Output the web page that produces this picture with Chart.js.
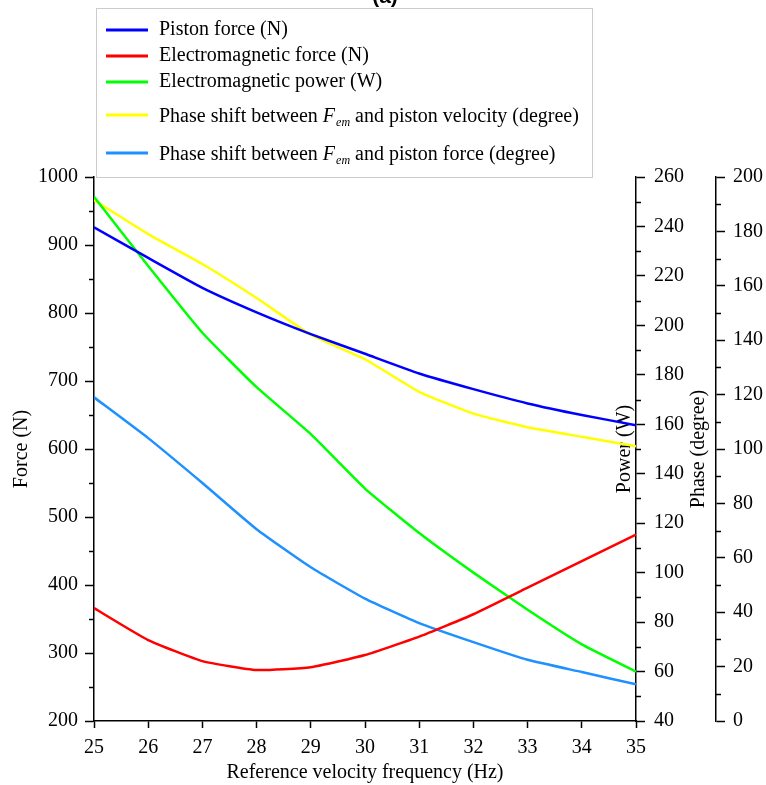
<!DOCTYPE html>
<html>
<head>
<meta charset="utf-8">
<script src="https://cdn.jsdelivr.net/npm/chart.js@4.4.0/dist/chart.umd.min.js"></script>
<style>
  html, body { margin: 0; padding: 0; background: #fff; }
  #wrap { width: 766px; height: 785px; }
</style>
</head>
<body>
<div id="wrap"><canvas id="myChart" width="766" height="785"></canvas></div>
<script>
// values
const freq = [25, 26, 27, 28, 29, 30, 31, 32, 33, 34, 35];
const pistonForce = [926, 881, 837, 801, 769, 740, 711, 688, 667, 650, 635];
const emForce = [366, 319, 288, 275, 279, 297, 324, 357, 396, 435, 474];
const emPower = [252, 224, 197, 175, 156, 134, 116, 100, 85, 71, 60];
const phaseVel = [191.5, 179, 168, 155.5, 142, 133, 121, 113, 108, 104.5, 101];
const phaseForce = [119, 104, 87.5, 70.5, 56.5, 45, 36, 29, 22.5, 18, 13.5];

const seriesNames = [
    'Piston force (N)',
    'Electromagnetic force (N)',
    'Electromagnetic power (W)',
    'Phase shift between Fem and piston velocity (degree)',
    'Phase shift between Fem and piston force (degree)'
];
const seriesColors = ['#0000ff', '#ff0000', '#00ff00', '#ffff00', '#1e90ff'];
const legendRows = [30, 56, 82, 117, 155];

const serif = "'Liberation Serif', 'Times New Roman', serif";
const majorStep = { yForce: 100, yPower: 20, yPhase: 20 };

function toPoints(vals) {
    return freq.map((f, i) => ({ x: f, y: vals[i] }));
}

function drawRich(ctx, text, x, y, size) {
    let parts = text.split('Fem');
    let cx = x;
    parts.forEach((p, i) => {
        if (i > 0) {
            ctx.font = 'italic ' + size + 'px ' + serif;
            ctx.fillText('F', cx, y);
            cx += ctx.measureText('F').width + 1;
            ctx.font = 'italic ' + Math.round(size * 0.62) + 'px ' + serif;
            ctx.fillText('em', cx, y + 6);
            cx += ctx.measureText('em').width;
        }
        ctx.font = size + 'px ' + serif;
        ctx.fillText(p, cx, y);
        cx += ctx.measureText(p).width;
    });
}

function vTitle(ctx, text, x, y) {
    ctx.save();
    ctx.translate(x, y);
    ctx.rotate(-Math.PI / 2);
    ctx.textAlign = 'center';
    ctx.textBaseline = 'middle';
    ctx.fillText(text, 0, 0);
    ctx.restore();
}

const decor = {
    id: 'decor',
    beforeDatasetsDraw(chart) {
        let ctx = chart.ctx;
        let a = chart.chartArea;
        let midY = (a.top + a.bottom) / 2;
        ctx.save();
        ctx.fillStyle = '#000';
        ctx.font = '20px ' + serif;
        vTitle(ctx, 'Force (N)', 22, midY);
        vTitle(ctx, 'Power (W)', a.right - 11, midY);
        vTitle(ctx, 'Phase (degree)', chart.scales.yPhase.left - 17, midY);
        ctx.textAlign = 'center';
        ctx.textBaseline = 'middle';
        ctx.fillText('Reference velocity frequency (Hz)', (a.left + a.right) / 2, 773);

        // minor ticks
        ctx.strokeStyle = '#000';
        ctx.lineWidth = 1.5;
        ['yForce', 'yPower', 'yPhase'].forEach(id => {
            let s = chart.scales[id];
            s.ticks.forEach(t => {
                if (t.value % majorStep[id] === 0) return;
                let y = Math.round(s.getPixelForValue(t.value)) + 0.5;
                let x0 = s.position === 'left' ? s.right : s.left;
                let dir = s.position === 'left' ? -1 : 1;
                ctx.beginPath();
                ctx.moveTo(x0, y);
                ctx.lineTo(x0 + dir * 5, y);
                ctx.stroke();
            });
        });
        ctx.restore();
    },
    afterDraw(chart) {
        let ctx = chart.ctx;
        ctx.save();
        // panel label, cut off at the top edge
        ctx.fillStyle = '#000';
        ctx.font = 'bold 21px "Liberation Sans", Arial, sans-serif';
        ctx.textAlign = 'center';
        ctx.textBaseline = 'alphabetic';
        ctx.fillText('(a)', 385, 3);

        // legend box
        ctx.fillStyle = '#fff';
        ctx.fillRect(96, 8, 496, 169);
        ctx.strokeStyle = '#cccccc';
        ctx.lineWidth = 1;
        ctx.strokeRect(96.5, 8.5, 496, 169);
        ctx.textAlign = 'left';
        ctx.textBaseline = 'middle';
        chart.data.datasets.forEach((ds, i) => {
            let y = legendRows[i];
            ctx.strokeStyle = ds.borderColor;
            ctx.lineWidth = 3;
            ctx.beginPath();
            ctx.moveTo(106, y - (i > 2 ? 2 : 0));
            ctx.lineTo(148, y - (i > 2 ? 2 : 0));
            ctx.stroke();
            ctx.fillStyle = '#000';
            drawRich(ctx, ds.label, 159, y, 20);
        });
        ctx.restore();
    }
};

const tickFont = { family: serif, size: 20 };
const majorColor = id => c => (c.tick && c.tick.value % majorStep[id] === 0) ? '#000' : 'rgba(0,0,0,0)';

let ctx = document.getElementById('myChart').getContext('2d');
let myChart = new Chart(ctx, {
    type: 'line',
    data: {
        datasets: [
            { label: seriesNames[0], data: toPoints(pistonForce), yAxisID: 'yForce' },
            { label: seriesNames[1], data: toPoints(emForce), yAxisID: 'yForce' },
            { label: seriesNames[2], data: toPoints(emPower), yAxisID: 'yPower' },
            { label: seriesNames[3], data: toPoints(phaseVel), yAxisID: 'yPhase' },
            { label: seriesNames[4], data: toPoints(phaseForce), yAxisID: 'yPhase' }
        ].map((d, i) => Object.assign(d, {
            borderColor: seriesColors[i],
            backgroundColor: seriesColors[i],
            borderWidth: 2.5,
            pointRadius: 0,
            tension: 0.15,
            fill: false
        }))
    },
    options: {
        responsive: false,
        animation: false,
        devicePixelRatio: 1,
        layout: { padding: { top: 177, left: 0, right: 0, bottom: 0 } },
        plugins: { legend: { display: false }, tooltip: { enabled: false } },
        scales: {
            x: {
                type: 'linear', position: 'bottom', min: 25, max: 35,
                ticks: { stepSize: 1, color: '#000', font: tickFont, padding: 8, autoSkip: false },
                grid: { drawOnChartArea: false, tickLength: 7, tickColor: '#000', tickWidth: 1.5 },
                border: { color: '#000', width: 1.5 },
                afterFit: s => { s.height = 64; }
            },
            yForce: {
                position: 'left', min: 200, max: 1000,
                ticks: { stepSize: 50, color: '#000', font: tickFont, padding: 7, autoSkip: false,
                    callback: v => v % 100 === 0 ? v : '' },
                grid: { drawOnChartArea: false, tickLength: 9, tickColor: majorColor('yForce'), tickWidth: 1.5 },
                border: { color: '#000', width: 1.5 },
                afterFit: s => { s.width = 94; }
            },
            yPower: {
                position: 'right', min: 40, max: 260,
                ticks: { stepSize: 10, color: '#000', font: tickFont, padding: 9, autoSkip: false,
                    callback: v => v % 20 === 0 ? v : '' },
                grid: { drawOnChartArea: false, tickLength: 9, tickColor: majorColor('yPower'), tickWidth: 1.5 },
                border: { color: '#000', width: 1.5 },
                afterFit: s => { s.width = 80; }
            },
            yPhase: {
                position: 'right', min: 0, max: 200,
                ticks: { stepSize: 10, color: '#000', font: tickFont, padding: 8, autoSkip: false,
                    callback: v => v % 20 === 0 ? v : '' },
                grid: { drawOnChartArea: false, tickLength: 9, tickColor: majorColor('yPhase'), tickWidth: 1.5 },
                border: { color: '#000', width: 1.5 },
                afterFit: s => { s.width = 50; }
            }
        }
    },
    plugins: [decor]
});
</script>
</body>
</html>
